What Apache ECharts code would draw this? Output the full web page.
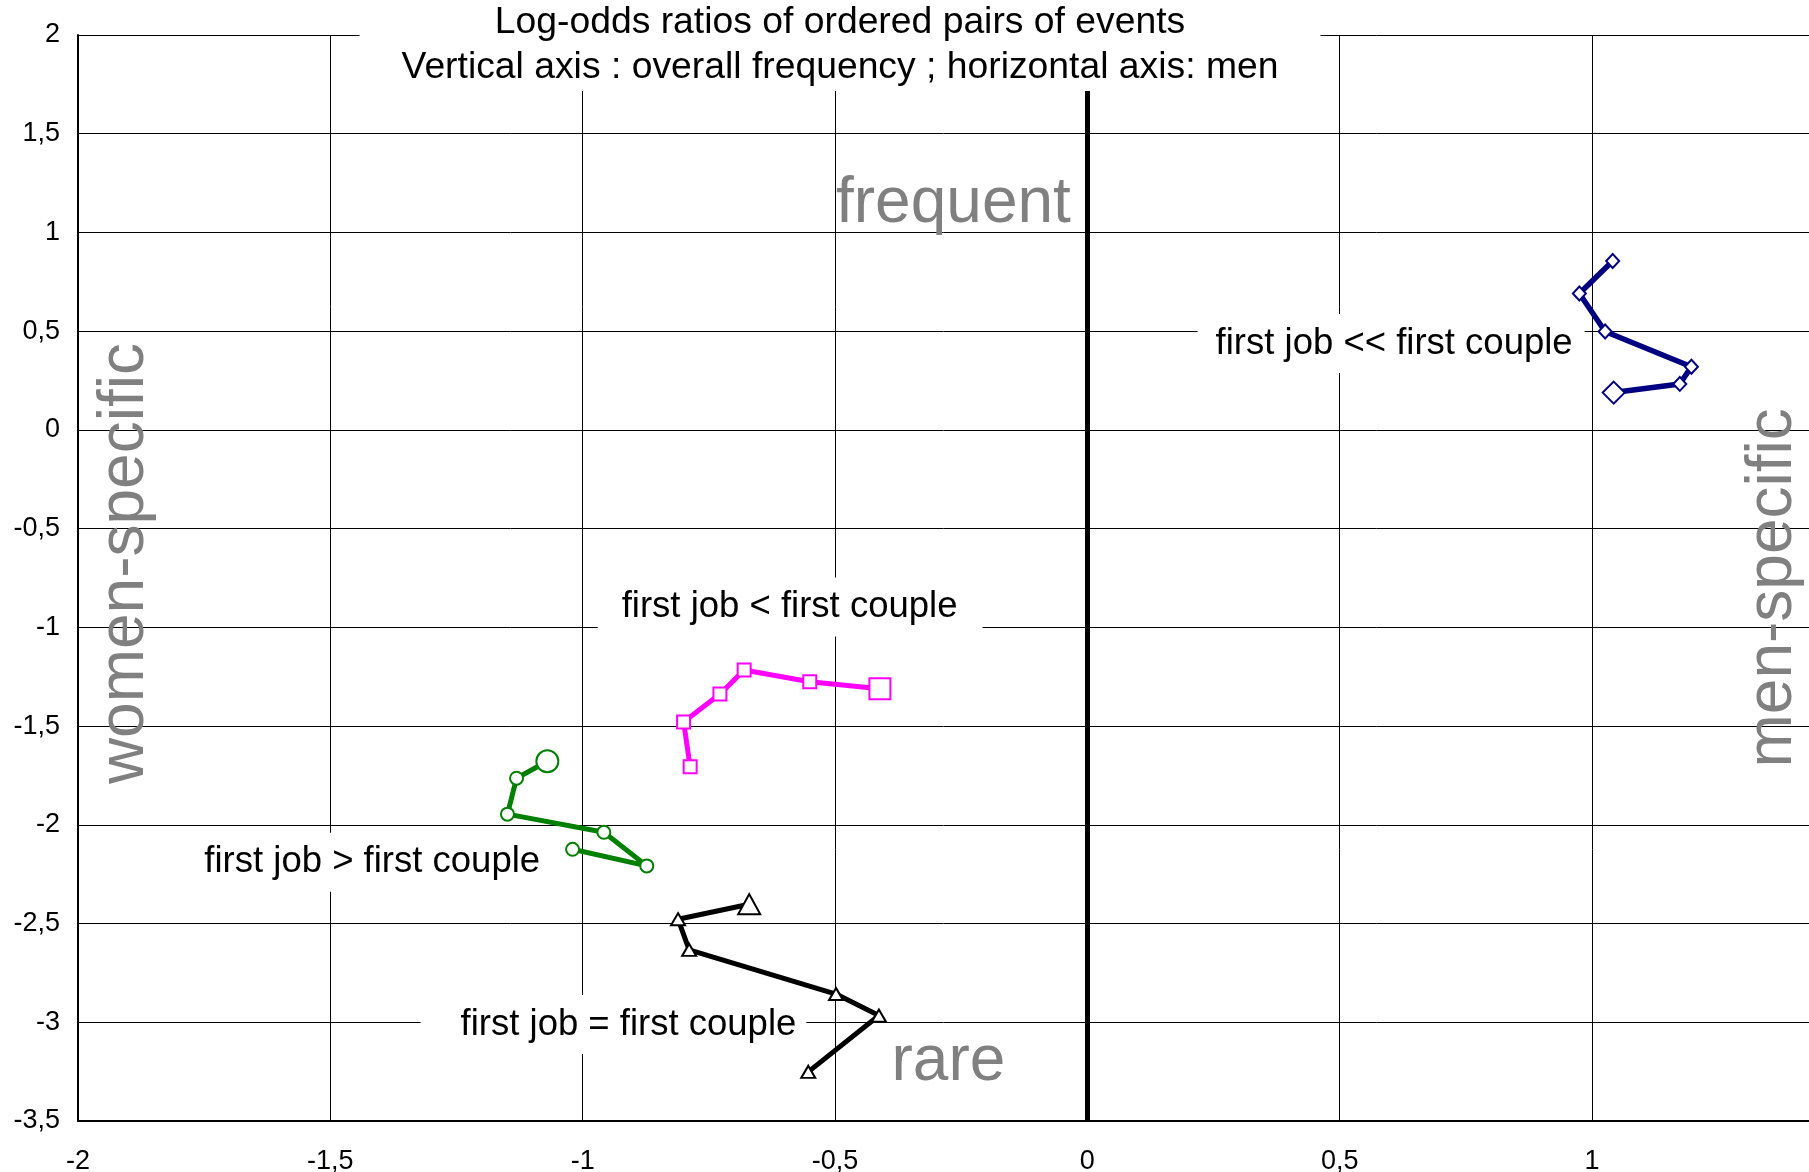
<!DOCTYPE html>
<html>
<head>
<meta charset="utf-8">
<title>Log-odds ratios of ordered pairs of events</title>
<script src="https://cdn.jsdelivr.net/npm/echarts@6/dist/echarts.min.js"></script>
<style>
  html, body { margin: 0; padding: 0; background: #fff; }
  #chart { width: 1809px; height: 1172px; }
</style>
</head>
<body>
<div id="chart"></div>
<script>
// horizontal axis: men (log-odds), vertical axis: overall frequency
// first point of each trajectory is the one drawn with the big marker
var muchBeforeX = [1.043, 1.174, 1.197, 1.026, 0.975, 1.041];
var muchBeforeY = [0.189, 0.233, 0.320, 0.498, 0.691, 0.855];

var beforeX = [-0.411, -0.550, -0.680, -0.728, -0.800, -0.787];
var beforeY = [-1.311, -1.275, -1.216, -1.338, -1.479, -1.706];

var afterX = [-1.070, -1.131, -1.149, -0.958, -0.873, -1.020];
var afterY = [-1.678, -1.764, -1.946, -2.038, -2.208, -2.124];

var sameX = [-0.670, -0.811, -0.789, -0.498, -0.413, -0.553];
var sameY = [-2.402, -2.478, -2.633, -2.857, -2.966, -3.251];

var xMin = -2, xMax = 1.43, yMin = -3.5, yMax = 2, step = 0.5;

var FONT = '"Liberation Sans", Arial, sans-serif';

function pairs(xs, ys) {
    return xs.map(function (x, i) { return [x, ys[i]]; });
}

function trajectory(name, xs, ys, color, symbol, small, large, width) {
    return {
        name: name,
        type: 'line',
        data: pairs(xs, ys),
        symbol: symbol,
        symbolSize: function (v, p) { return p.dataIndex === 0 ? large : small; },
        showAllSymbol: true,
        lineStyle: { color: color, width: width },
        itemStyle: { color: '#fff', borderColor: color, borderWidth: 2 },
        emphasis: { disabled: true },
        z: 3
    };
}

function comma(v) {
    return String(v).replace('.', ',');
}

var chart = echarts.init(document.getElementById('chart'));

var muchBefore = trajectory('first job << first couple', muchBeforeX, muchBeforeY, '#000080', 'diamond', [13, 14], [22, 22], 5.5);
// thick vertical line at 0 on the men axis
muchBefore.markLine = {
    silent: true,
    symbol: ['none', 'none'],
    label: { show: false },
    lineStyle: { color: '#000', width: 5, type: 'solid' },
    emphasis: { disabled: true },
    data: [{ xAxis: 0 }]
};

chart.setOption({
    animation: false,
    title: {
        text: 'Log-odds ratios of ordered pairs of events\nVertical axis : overall frequency ; horizontal axis: men',
        left: 798,
        top: 0,
        textAlign: 'center',
        padding: [0, 42, 1, 42],
        backgroundColor: '#fff',
        textStyle: {
            fontFamily: FONT,
            fontSize: 37.3,
            fontWeight: 'normal',
            lineHeight: 45,
            color: '#000'
        }
    },
    grid: { left: 78, right: 0, top: 35, bottom: 51, containLabel: false, outerBoundsMode: 'none' },
    xAxis: {
        type: 'value',
        min: xMin,
        max: xMax,
        interval: step,
        axisLine: { onZero: false, lineStyle: { color: '#000', width: 2 } },
        axisTick: { show: false },
        axisLabel: {
            fontFamily: FONT, fontSize: 27, color: '#000', margin: 27,
            showMaxLabel: false,
            formatter: comma
        },
        splitLine: { show: true, lineStyle: { color: '#000', width: 1 } }
    },
    yAxis: {
        type: 'value',
        min: yMin,
        max: yMax,
        interval: step,
        axisLine: { show: true, onZero: false, lineStyle: { color: '#000', width: 2 } },
        axisTick: { show: false },
        axisLabel: { fontFamily: FONT, fontSize: 27, color: '#000', margin: 18, formatter: comma },
        splitLine: { show: true, lineStyle: { color: '#000', width: 1 } }
    },
    series: [
        muchBefore,
        trajectory('first job < first couple', beforeX, beforeY, '#ff00ff', 'rect', 13, 21, 5),
        trajectory('first job > first couple', afterX, afterY, '#008000', 'circle', 13, 22, 5),
        trajectory('first job = first couple', sameX, sameY, '#000000', 'triangle', [14, 12], [22, 20], 5)
    ]
});

// annotations, anchored in data coordinates
var notes = [
    { text: 'first job << first couple', at: [0.602, 0.437], size: 36.5, color: '#000', box: [11, 12, 11, 18] },
    { text: 'first job < first couple', at: [-0.589, -0.897], size: 36.5, color: '#000', box: [11, 25, 11, 24] },
    { text: 'first job > first couple', at: [-1.417, -2.19], size: 36.5, color: '#000', box: [11, 12, 11, 12] },
    { text: 'first job = first couple', at: [-0.939, -3.011], size: 36.5, color: '#000', box: [11, 10, 11, 40] },
    { text: 'frequent', at: [-0.498, 1.143], size: 64, color: '#808080', align: 'left' },
    { text: 'rare', at: [-0.388, -3.205], size: 64, color: '#808080', align: 'left' },
    { text: 'women-specific', at: [-1.907, -0.677], size: 64, color: '#808080', rotate: Math.PI / 2 },
    { text: 'men-specific', at: [1.359, -0.8], size: 64, color: '#808080', rotate: Math.PI / 2 }
];

chart.setOption({
    graphic: notes.map(function (n) {
        var p = chart.convertToPixel({ gridIndex: 0 }, n.at);
        var style = {
            text: n.text,
            fontFamily: FONT,
            fontSize: n.size,
            fill: n.color,
            align: n.align || 'center',
            verticalAlign: 'middle'
        };
        if (n.box) {
            style.backgroundColor = '#fff';
            style.padding = n.box;
        }
        return {
            type: 'text',
            x: p[0],
            y: p[1],
            rotation: n.rotate || 0,
            z: 100,
            silent: true,
            style: style
        };
    })
});
</script>
</body>
</html>
